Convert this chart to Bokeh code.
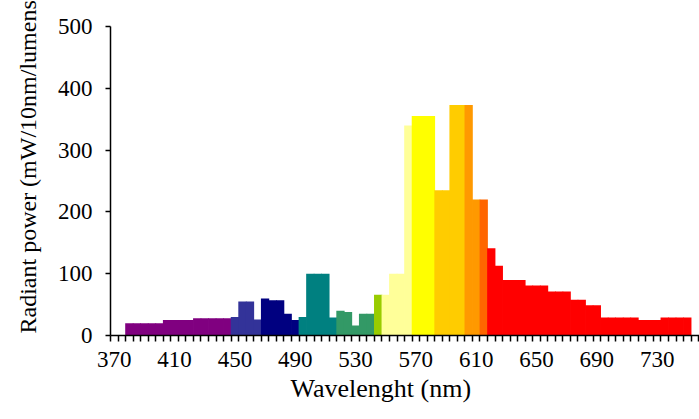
from bokeh.plotting import figure
from bokeh.models import Range1d, FixedTicker, Title
from bokeh.embed import file_html
from bokeh.resources import INLINE

# ---- data ----
wavelength = [380, 385, 390, 395, 400, 405, 410, 415, 420, 425, 430, 435, 440, 445,
              450, 455, 460, 465, 470, 475, 480, 485, 490, 495, 500, 505, 510, 515,
              520, 525, 530, 535, 540, 545, 550, 555, 560, 565, 570, 575, 580, 585,
              590, 595, 600, 605, 610, 615, 620, 625, 630, 635, 640, 645, 650, 655,
              660, 665, 670, 675, 680, 685, 690, 695, 700, 705, 710, 715, 720, 725,
              730, 735, 740, 745, 750]
power = [20, 20, 20, 20, 20, 25, 25, 25, 25, 28, 28, 28, 28, 28,
         30, 55, 55, 26, 60, 57, 57, 35, 25, 30, 100, 100, 100, 29,
         40, 38, 16, 35, 35, 66, 66, 100, 100, 340, 355, 355, 355, 235,
         235, 373, 373, 373, 220, 220, 141, 113, 90, 90, 90, 81, 81, 81,
         71, 71, 71, 58, 58, 49, 49, 29, 29, 29, 29, 29, 25, 25,
         25, 29, 29, 29, 29]
band_start = [380, 450, 470, 495, 520, 545, 550, 570, 585, 605, 615, 620]
band_color = ["#800080", "#333399", "#000080", "#008080", "#339966", "#99CC00",
              "#FFFF99", "#FFFF00", "#FFCC00", "#FF9900", "#FF6600", "#FF0000"]
x_tick_labels = [370, 410, 450, 490, 530, 570, 610, 650, 690, 730]
y_ticks = [0, 100, 200, 300, 400, 500]
bin_width = 5
x_title = "Wavelenght (nm)"
y_title = "Radiant power (mW/10nm/lumens)"


def band_of(w):
    c = band_color[0]
    for s, col in zip(band_start, band_color):
        if w >= s:
            c = col
    return c


colors = [band_of(w) for w in wavelength]

FONT = "Liberation Serif"

W, H = 699, 419
ML, MR, MT, MB = 110, 0, 26, 84
x0 = x_tick_labels[0] - bin_width / 2
px_per_nm = 1.508
x1 = x0 + (W - ML - MR) / px_per_nm

p = figure(width=W, height=H, output_backend="svg", toolbar_location=None,
           x_range=Range1d(x0, x1), y_range=Range1d(0, 500),
           min_border_left=ML, min_border_right=MR, min_border_top=MT,
           min_border_bottom=MB)
p.outline_line_color = None
p.background_fill_color = "white"
p.border_fill_color = "white"

p.vbar(x=wavelength, top=power, width=bin_width + 0.5, bottom=0,
       fill_color=colors, line_color=None)

# grid: only the top line at 500
p.xgrid.visible = False
p.ygrid.ticker = FixedTicker(ticks=[500])
p.ygrid.grid_line_color = "#8a8a8a"
p.ygrid.grid_line_width = 2

# x axis: labels every 40 nm, small ticks at category boundaries
boundaries = []
b = x0
while b <= x1:
    boundaries.append(b)
    b += bin_width
p.xaxis.ticker = FixedTicker(ticks=x_tick_labels, minor_ticks=boundaries)
p.xaxis.major_tick_line_color = None
p.xaxis.major_tick_out = 5
p.xaxis.major_tick_in = 0
p.xaxis.minor_tick_line_color = "black"
p.xaxis.minor_tick_line_width = 1.5
p.xaxis.minor_tick_out = 6
p.xaxis.minor_tick_in = 0
p.xaxis.axis_line_color = "black"
p.xaxis.axis_line_width = 1.5
p.xaxis.major_label_standoff = 10
p.xaxis.major_label_text_font = FONT
p.xaxis.major_label_text_font_size = "23px"
p.xaxis.major_label_text_color = "black"

# y axis
p.yaxis.ticker = FixedTicker(ticks=y_ticks)
p.yaxis.minor_tick_line_color = None
p.yaxis.major_tick_out = 5
p.yaxis.major_tick_in = 0
p.yaxis.major_tick_line_width = 1.5
p.yaxis.axis_line_width = 1.5
p.yaxis.major_label_standoff = 13
p.yaxis.major_label_text_font = FONT
p.yaxis.major_label_text_font_size = "23px"
p.yaxis.major_label_text_color = "black"

# axis titles
yt = Title(text=y_title, align="left", vertical_align="top", offset=2,
           standoff=24, text_font=FONT, text_font_size="24px",
           text_font_style="normal", text_color="black")
p.add_layout(yt, "left")
xt = Title(text=x_title, align="left", vertical_align="bottom", offset=180,
           standoff=4, text_font=FONT, text_font_size="26px",
           text_font_style="normal", text_color="black")
p.add_layout(xt, "below")

open("out.html", "w").write(file_html(p, INLINE))
